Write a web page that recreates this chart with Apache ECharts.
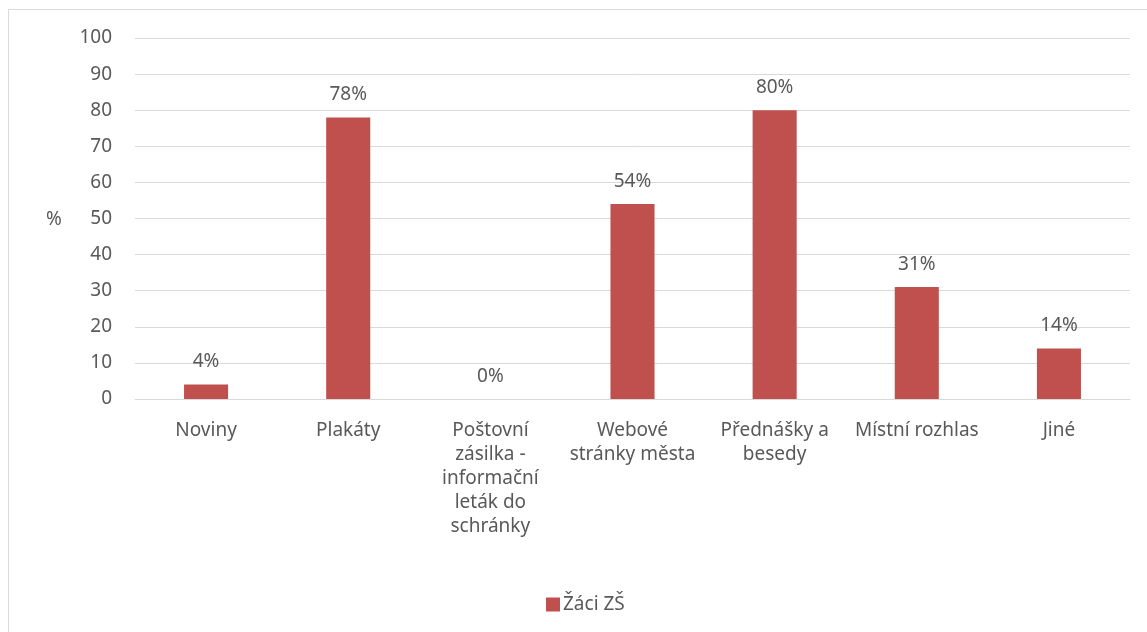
<!DOCTYPE html>
<html>
<head>
<meta charset="utf-8">
<script src="https://cdn.jsdelivr.net/npm/echarts@6/dist/echarts.min.js"></script>
<style>
  html, body { margin: 0; padding: 0; background: #fff; }
  #chart { width: 1147px; height: 632px; }
</style>
</head>
<body>
<div id="chart"></div>
<script>
var categories = ['Noviny', 'Plakáty', 'Poštovní\nzásilka -\ninformační\nleták do\nschránky',
    'Webové\nstránky města', 'Přednášky a\nbesedy', 'Místní rozhlas', 'Jiné'];
var values = [4, 78, 0, 54, 80, 31, 14];
var seriesName = 'Žáci ZŠ';

var font = '"Noto Sans", sans-serif';
var textColor = '#595959';
var fs = 19;

var myChart = echarts.init(document.getElementById('chart'));
var option = {
    animation: false,
    textStyle: { fontFamily: font },
    graphic: [{
        type: 'rect',
        shape: { x: 8.5, y: 9.5, width: 1160, height: 640 },
        style: { fill: 'none', stroke: '#d9d9d9', lineWidth: 1 },
        silent: true
    }, {
        type: 'text',
        left: 46, top: 210,
        style: { text: '%', fill: textColor, font: fs + 'px ' + font }
    }],
    grid: { left: 135, right: 17, top: 38, bottom: 233, containLabel: false },
    legend: {
        top: 590,
        left: 541,
        itemWidth: 14,
        itemHeight: 14,
        itemGap: 5,
        icon: 'rect',
        textStyle: { color: textColor, fontSize: fs, fontFamily: font, padding: [0, 0, 0, -2] },
        data: [seriesName]
    },
    xAxis: {
        type: 'category',
        data: categories,
        axisLine: { lineStyle: { color: '#d9d9d9' } },
        axisTick: { show: false },
        axisLabel: {
            color: textColor, fontSize: fs, fontFamily: font,
            lineHeight: 24, margin: 20, interval: 0
        }
    },
    yAxis: {
        type: 'value',
        min: 0, max: 100, interval: 10,
        axisLine: { show: false },
        axisTick: { show: false },
        axisLabel: { color: textColor, fontSize: fs, fontFamily: font, margin: 23 },
        splitLine: { lineStyle: { color: '#d9d9d9' } }
    },
    series: [{
        name: seriesName,
        type: 'bar',
        data: values,
        barWidth: '31%',
        itemStyle: { color: '#c0504d' },
        label: {
            show: true,
            position: 'top',
            distance: 13,
            formatter: '{c}%',
            color: textColor,
            fontSize: fs,
            fontFamily: font
        }
    }]
};
myChart.setOption(option);
</script>
</body>
</html>
